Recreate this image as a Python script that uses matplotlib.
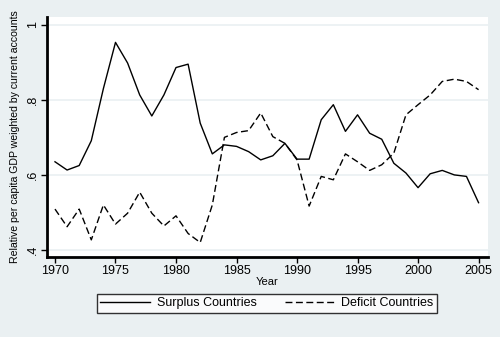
import matplotlib
matplotlib.use("Agg")
import matplotlib.pyplot as plt
from matplotlib.lines import Line2D

plt.rcParams["font.family"] = ["Liberation Sans", "DejaVu Sans"]

years = list(range(1970, 2006))

# relative per capita GDP, weighted by current accounts
surplus = [0.635, 0.613, 0.625, 0.691, 0.830, 0.953, 0.898, 0.813, 0.757, 0.813,
           0.886, 0.895, 0.738, 0.656, 0.680, 0.676, 0.662, 0.640, 0.651, 0.684,
           0.642, 0.642, 0.747, 0.787, 0.716, 0.760, 0.711, 0.695, 0.631, 0.605,
           0.566, 0.603, 0.612, 0.600, 0.596, 0.526]
deficit = [0.509, 0.462, 0.509, 0.427, 0.520, 0.469, 0.498, 0.554, 0.498, 0.464,
           0.491, 0.444, 0.420, 0.520, 0.700, 0.713, 0.718, 0.765, 0.702, 0.684,
           0.640, 0.517, 0.596, 0.587, 0.656, 0.635, 0.612, 0.627, 0.658, 0.760,
           0.787, 0.813, 0.849, 0.855, 0.849, 0.827]

xticks = [1970, 1975, 1980, 1985, 1990, 1995, 2000, 2005]
yticks = [0.4, 0.6, 0.8, 1.0]
ytick_labels = [".4", ".6", ".8", "1"]

bg = "#EAF0F2"

fig = plt.figure(figsize=(5.0, 3.37), dpi=100, facecolor=bg)
ax = fig.add_axes([0.094, 0.237, 0.882, 0.713])
ax.set_facecolor("white")

ax.plot(years, surplus, color="black", lw=1.0, label="Surplus Countries")
ax.plot(years, deficit, color="black", lw=1.0, dashes=(5, 2.5), label="Deficit Countries")

ax.set_xlim(1969.34, 2005.78)
ax.set_ylim(0.381, 1.021)
ax.set_xticks(xticks)
ax.set_yticks(yticks)
ax.set_yticklabels(ytick_labels, rotation=90, va="center")
ax.grid(axis="y", color=bg, lw=1.2)
ax.set_axisbelow(True)

for s in ["top", "right"]:
    ax.spines[s].set_visible(False)
for s in ["left", "bottom"]:
    ax.spines[s].set_linewidth(2.0)
    ax.spines[s].set_color("black")

ax.tick_params(axis="both", length=4, width=1, labelsize=9, colors="black", pad=2)
ax.set_xlabel("Year", fontsize=8, labelpad=0)
# slightly smaller than the original so the label stays inside the figure
ax.set_ylabel("Relative per capita GDP weighted by current accounts", fontsize=7.6, labelpad=5)

handles = [Line2D([], [], color="black", lw=1.0),
           Line2D([], [], color="black", lw=1.0, dashes=(5, 2.5))]
leg = fig.legend(handles, ["Surplus Countries", "Deficit Countries"],
                 loc="center", bbox_to_anchor=(0.534, 0.0995), ncol=2,
                 frameon=True, fancybox=False, edgecolor="black", fontsize=9,
                 handlelength=4.0, handletextpad=0.5, columnspacing=2.3,
                 borderpad=0.3)
leg.get_frame().set_linewidth(1.0)

fig.savefig("out.png", dpi=100, facecolor=bg)
